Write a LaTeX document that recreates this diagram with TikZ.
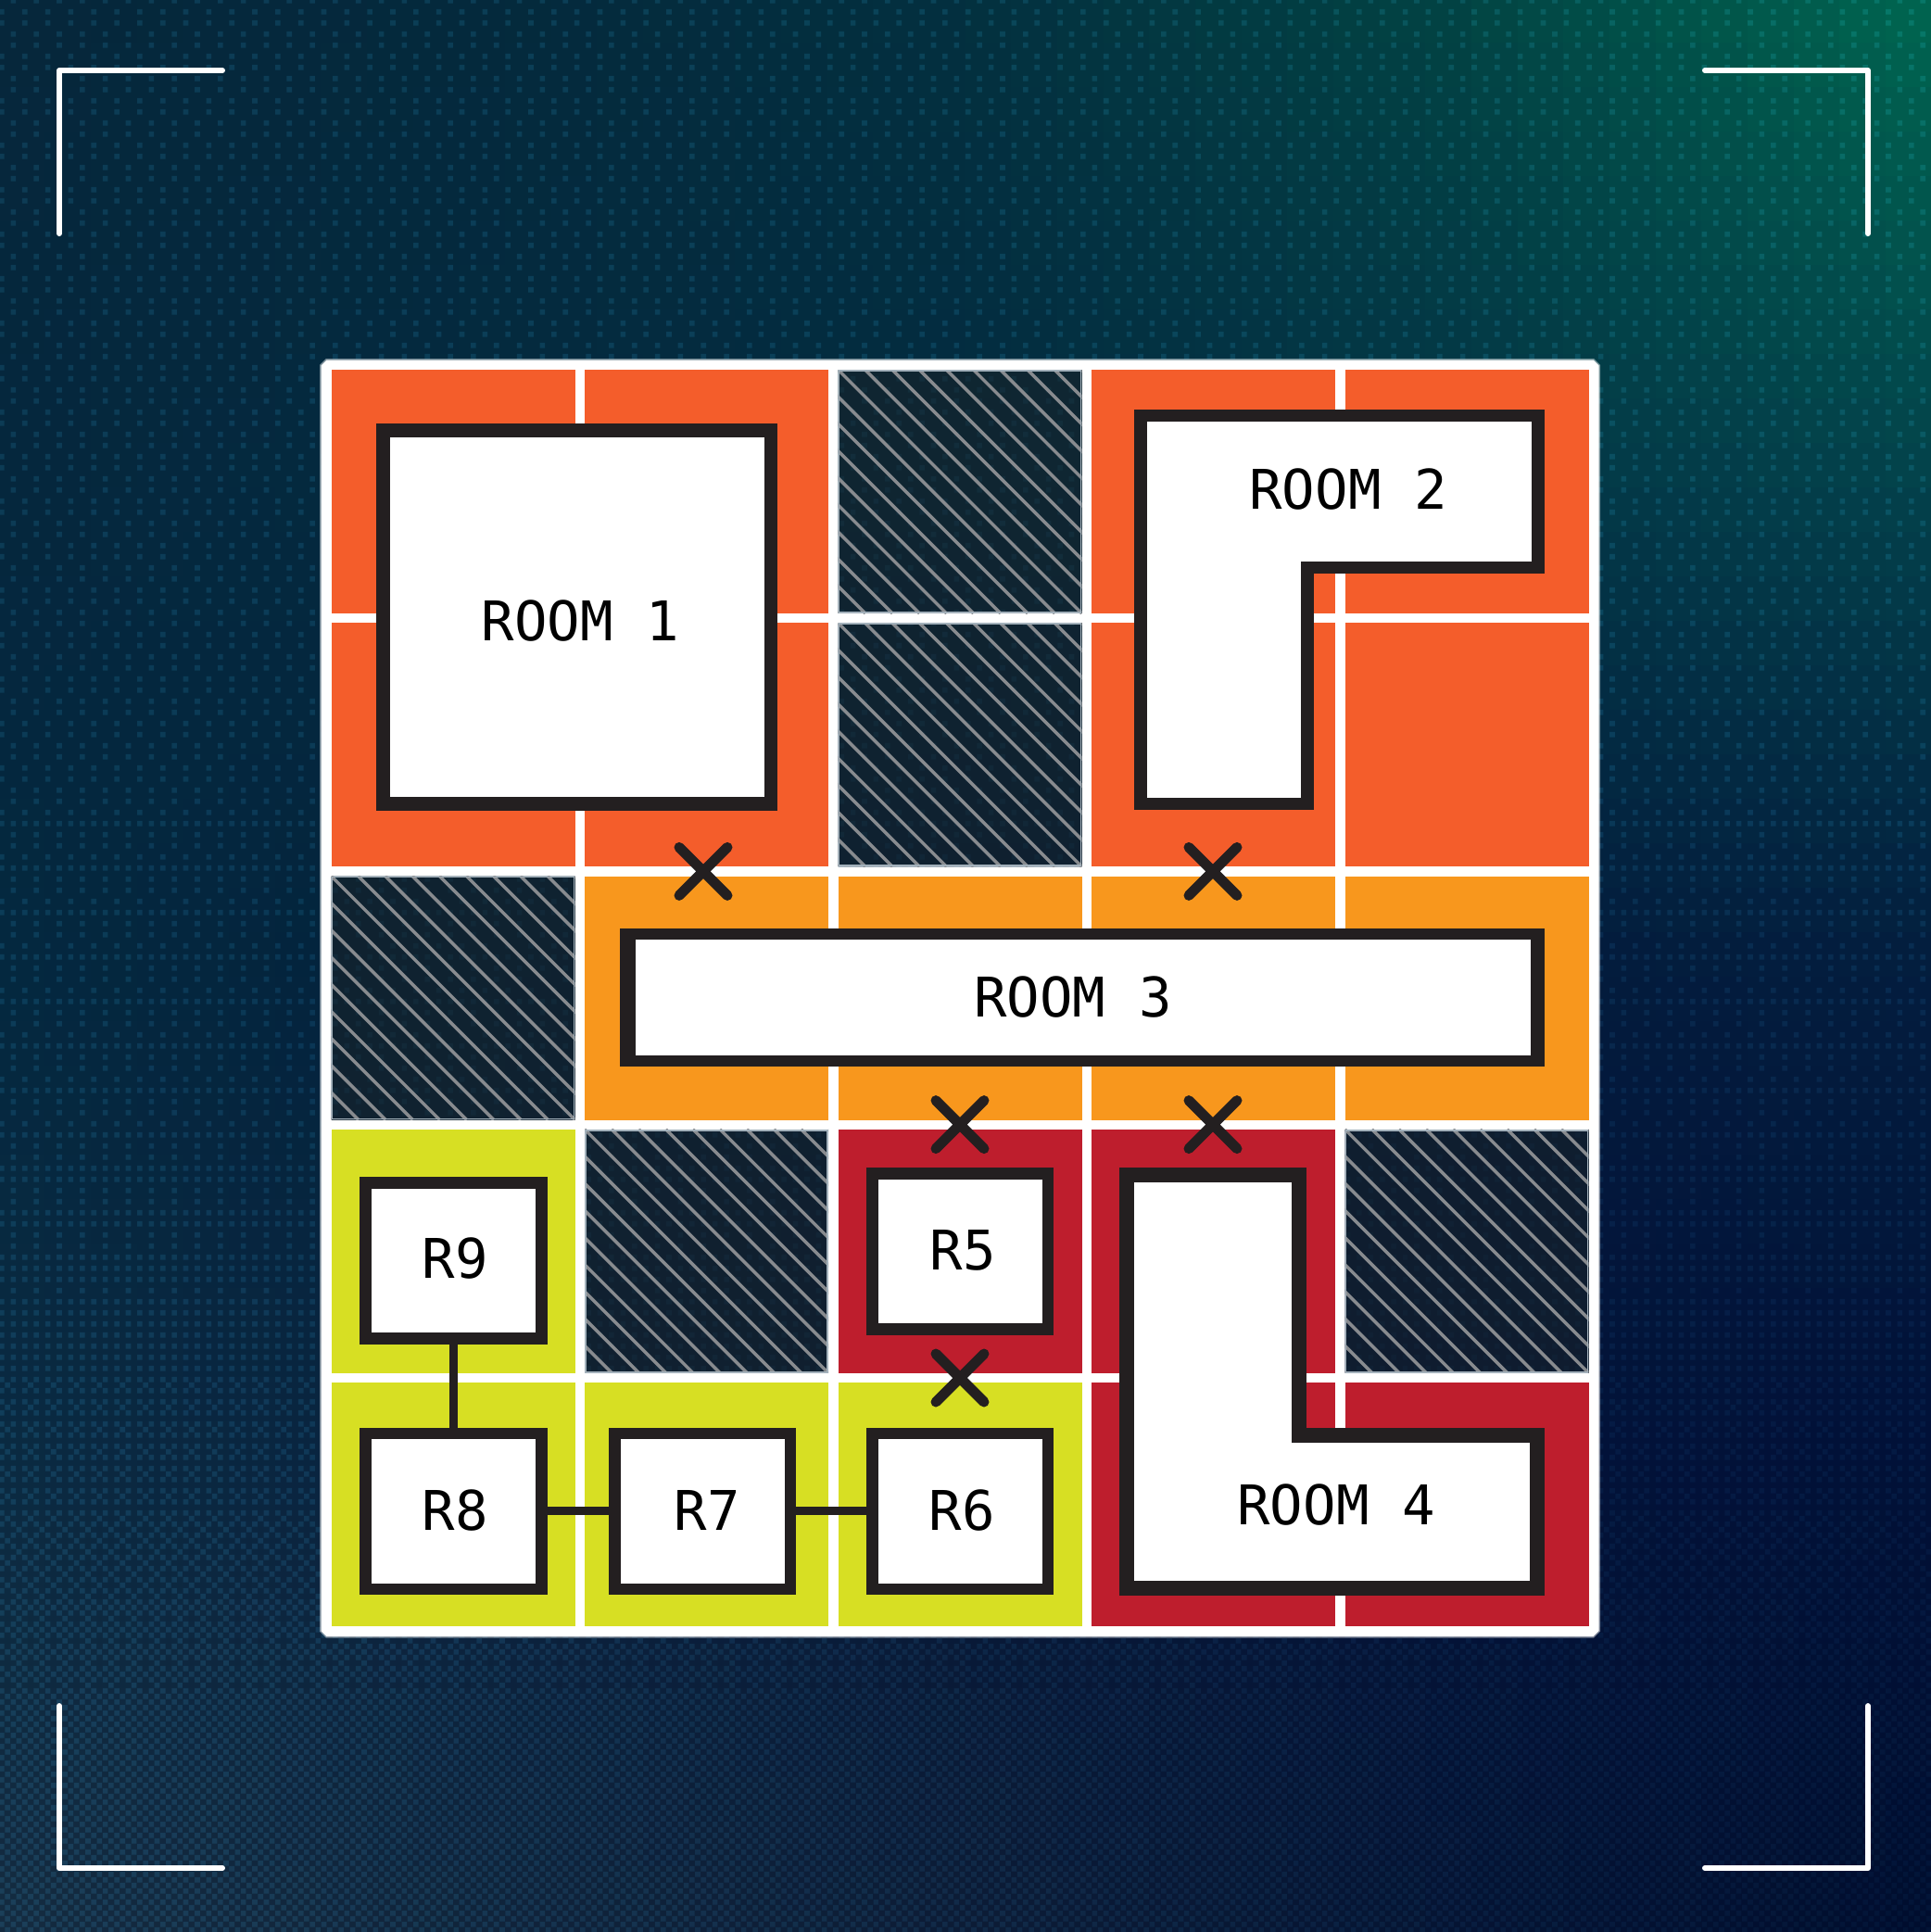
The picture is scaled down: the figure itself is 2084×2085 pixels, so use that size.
\documentclass[tikz,border=0pt]{standalone}
\usepackage{fontspec}
\newfontfamily\lblfont{DejaVu Sans Mono}
\definecolor{rorange}{HTML}{F45D2B}
\definecolor{ramber}{HTML}{F8971D}
\definecolor{rcrimson}{HTML}{BE1E2D}
\definecolor{rlime}{HTML}{D7DF23}
\definecolor{rdark}{HTML}{231F20}
\definecolor{hline}{HTML}{888B8F}
\definecolor{hedge}{HTML}{A3B1BB}
\definecolor{hfill}{HTML}{172229}
% background control grid (5x5), hex RGB
\def\cg#1#2#3#4#5{%
 \expandafter\def\csname cR#1#2\endcsname{"#3}%
 \expandafter\def\csname cG#1#2\endcsname{"#4}%
 \expandafter\def\csname cB#1#2\endcsname{"#5}}
\cg00{06}{27}{3B}\cg10{04}{29}{3C}\cg20{03}{30}{3F}\cg30{02}{43}{43}\cg40{00}{66}{50}
\cg01{05}{27}{3D}\cg11{04}{2A}{3F}\cg21{03}{2B}{40}\cg31{03}{35}{46}\cg41{03}{42}{4B}
\cg02{04}{28}{3F}\cg12{03}{22}{3C}\cg22{02}{1B}{3A}\cg32{03}{1B}{3C}\cg42{03}{1D}{3E}
\cg03{0A}{2A}{41}\cg13{09}{22}{3F}\cg23{06}{18}{38}\cg33{03}{12}{39}\cg43{01}{11}{38}
\cg04{14}{2B}{40}\cg14{10}{24}{3B}\cg24{0C}{1C}{36}\cg34{05}{14}{33}\cg44{00}{0D}{2E}
\def\chan#1{\numexpr(\csname c#1\ia\ja\endcsname*\wA+\csname c#1\ib\ja\endcsname*\wB+\csname c#1\ia\jb\endcsname*\wC+\csname c#1\ib\jb\endcsname*\wD)/1000000\relax}
\def\D#1#2{\pgfpathrectangle{\pgfqpoint{\dimexpr\numexpr(\tx+30+621*#1)*32768/100\relax sp\relax}{\dimexpr-\numexpr(\ty+20+600*#2)*32768/100\relax sp\relax}}{\pgfqpoint{2.8pt}{-2.8pt}}}
\def\dotsA{\D02\D42\D04\D44\D26\D66\D20\D60}
\def\dotsB{\D24\D64}
\def\dotsC{\D22\D62}
\def\dotsD{\D06\D46}
\def\dotsE{\D00\D40}
\def\dotsF{\D11\D55\D51\D15}
\def\dotsG{\D33\D77\D73\D37}
\def\dotsH{\D31\D75\D71\D35}
\def\dotsI{\D13\D57\D53\D17}
\newcommand\bgtile[2]{%
 \edef\tx{\the\numexpr-120+4966*#1\relax}%
 \edef\ty{\the\numexpr-230+4800*#2\relax}%
 \edef\px{\the\numexpr(\tx+2483)/100\relax}%
 \edef\py{\the\numexpr(\ty+2400)/100\relax}%
 \ifnum\px<0 \def\px{0}\fi \ifnum\px>2083 \def\px{2083}\fi
 \ifnum\py<0 \def\py{0}\fi \ifnum\py>2083 \def\py{2083}\fi
 \edef\ia{\the\numexpr(\px-260)/521\relax}\edef\ib{\the\numexpr\ia+1\relax}%
 \edef\ja{\the\numexpr(\py-260)/521\relax}\edef\jb{\the\numexpr\ja+1\relax}%
 \edef\fx{\the\numexpr(\px-\ia*521)*1000/521\relax}%
 \edef\fy{\the\numexpr(\py-\ja*521)*1000/521\relax}%
 \edef\wA{\the\numexpr(1000-\fx)*(1000-\fy)\relax}%
 \edef\wB{\the\numexpr\fx*(1000-\fy)\relax}%
 \edef\wC{\the\numexpr(1000-\fx)*\fy\relax}%
 \edef\wD{\the\numexpr\fx*\fy\relax}%
 \edef\bgr{\the\chan{R}}\edef\bgg{\the\chan{G}}\edef\bgb{\the\chan{B}}%
 \edef\ff{\the\numexpr\bgg*25\relax}%
 \ifnum\ff>1000 \def\ff{1000}\fi \ifnum\ff<300 \def\ff{300}\fi
 \definecolor{tbg}{RGB}{\bgr,\bgg,\bgb}%
 \definecolor{tdot}{RGB}{\the\numexpr\bgr+7*\ff/1000\relax,\the\numexpr\bgg+20*\ff/1000\relax,\the\numexpr\bgb+25*\ff/1000\relax}%
 \begin{pgfscope}%
 \pgfsetfillcolor{tbg}%
 \pgfpathrectangle{\pgfqpoint{\dimexpr\numexpr\tx*32768/100\relax sp\relax}{\dimexpr-\numexpr\ty*32768/100\relax sp\relax}}{\pgfqpoint{25.5pt}{-24.5pt}}%
 \pgfusepath{fill}%
 \pgfsetfillcolor{tdot}%
 \dotsA
 \ifnum\py>850 \dotsB\fi
 \ifnum\py>1250 \dotsC\fi
 \ifnum\py>1330 \dotsD\fi
 \ifnum\py>1420 \dotsE\fi
 \ifnum\py>1500 \dotsF\fi
 \ifnum\py>1620 \dotsG\fi
 \ifnum\py>1720 \dotsH\fi
 \ifnum\py>1820 \dotsI\fi
 \pgfusepath{fill}%
 \end{pgfscope}}
\newcommand\hatchcell[2]{%
 \fill[hatchfill] (#1,#2) rectangle ++(263,263);
 \begin{scope}
 \clip (#1,#2) rectangle ++(263,263);
 \foreach \k in {-9,...,9}{\draw[hatchstroke] ({#1+\k*29.2},#2) -- ++(263,263);}
 \end{scope}
 \draw[hatchedge] ({#1+1},{#2+1}) rectangle ++(261,261);}
\tikzset{
 x=0.5pt,y=-0.5pt,
 bracket/.style={draw=white,line width=3pt,line cap=round,line join=round},
 hatchfill/.style={fill=hfill,fill opacity=.62},
 hatchstroke/.style={draw=hline,line width=1.75pt},
 hatchedge/.style={draw=hedge,line width=.9pt},
 roombox/.style={draw=rdark,fill=white,inner sep=0pt,outer sep=0pt,rectangle},
 smallbox/.style={roombox,line width=6.3pt,minimum width=94.85pt,minimum height=84pt},
 roomshape/.style={draw=rdark,fill=white,line join=miter},
 conn/.style={draw=rdark,line width=4.35pt},
 xmark/.style={draw=rdark,line width=5.5pt,line cap=round},
 lbl/.style={inner sep=0pt,outer sep=0pt,anchor=base,text=black,font=\lblfont\fontsize{29.5pt}{32pt}\selectfont},
}
\begin{document}
\begin{tikzpicture}
\useasboundingbox (0,0) rectangle (2084,2085);
% dithered background
\begin{scope}
\clip (0,0) rectangle (2084,2085);
\foreach \cx in {0,...,42}{\foreach \cy in {0,...,44}{\bgtile{\cx}{\cy}}}
\end{scope}
% corner brackets
\draw[bracket] (240,76) -- (64,76) -- (64,252);
\draw[bracket] (1840,76) -- (2016,76) -- (2016,252);
\draw[bracket] (64,1841) -- (64,2016) -- (240,2016);
\draw[bracket] (2016,1841) -- (2016,2016) -- (1840,2016);
% panel with holes for the hatched cells
\draw[draw=white,draw opacity=.45,line width=1.5pt,line join=miter]
 (352.5,388.5) -- (1719.5,388.5) -- (1725.5,394.5) -- (1725.5,1760) -- (1719.5,1766) -- (352.5,1766) -- (346.5,1760) -- (346.5,394.5) -- cycle;
\fill[white,even odd rule]
 (352.5,388.5) -- (1719.5,388.5) -- (1725.5,394.5) -- (1725.5,1760) -- (1719.5,1766) -- (352.5,1766) -- (346.5,1760) -- (346.5,394.5) -- cycle
 (904.5,399) rectangle ++(263,263)
 (904.5,672.25) rectangle ++(263,263)
 (357.5,945.5) rectangle ++(263,263)
 (631,1218.75) rectangle ++(263,263)
 (1451.5,1218.75) rectangle ++(263,263);
% coloured cells
\foreach \x/\y/\c in {
 357.5/399/rorange,631/399/rorange,1178/399/rorange,1451.5/399/rorange,
 357.5/672.25/rorange,631/672.25/rorange,1178/672.25/rorange,1451.5/672.25/rorange,
 631/945.5/ramber,904.5/945.5/ramber,1178/945.5/ramber,1451.5/945.5/ramber,
 357.5/1218.75/rlime,904.5/1218.75/rcrimson,1178/1218.75/rcrimson,
 357.5/1492/rlime,631/1492/rlime,904.5/1492/rlime,1178/1492/rcrimson,1451.5/1492/rcrimson}
 {\fill[\c] (\x,\y) rectangle ++(263,263);}
\hatchcell{904.5}{399}
\hatchcell{904.5}{672.25}
\hatchcell{357.5}{945.5}
\hatchcell{631}{1218.75}
\hatchcell{1451.5}{1218.75}
% rooms
\node[roombox,line width=7.3pt,minimum width=209.25pt,minimum height=201.5pt] (room1) at (622.75,666) {};
\draw[roomshape,line width=6.65pt] (1231,448.3) -- (1660,448.3) -- (1660,612.3) -- (1411,612.3) -- (1411,867.3) -- (1231,867.3) -- cycle;
\node[fill=rdark,inner sep=0pt,outer sep=0pt,minimum width=499pt,minimum height=74.5pt] (room3) at (1168,1076.5) {};
\node[fill=white,inner sep=0pt,outer sep=0pt,minimum width=483pt,minimum height=62.2pt] (room3in) at (1168.5,1076.5) {};
\draw[roomshape,line width=8pt] (1216,1268) -- (1402,1268) -- (1402,1549) -- (1659,1549) -- (1659,1713.5) -- (1216,1713.5) -- cycle;
% small rooms
\node[smallbox] (r9) at (489.6,1360.5) {};
\node[smallbox] (r8) at (489.6,1630.8) {};
\node[smallbox] (r7) at (758.3,1630.8) {};
\node[smallbox] (r6) at (1036.25,1630.8) {};
\node[smallbox] (r5) at (1036.25,1350.25) {};
% connectors
\draw[conn] (r9.south) -- (r8.north);
\draw[conn] (r8.east) -- (r7.west);
\draw[conn] (r7.east) -- (r6.west);
% blocked doors
\foreach \x/\y in {759/940.4,1309/940.4,1036/1213.6,1309/1213.6,1036/1487}
 {\draw[xmark,shift={(\x,\y)}] (-26,-26) -- (26,26) (-26,26) -- (26,-26);}
% labels
\node[lbl] (t1) at (626.5,691) {ROOM 1};
\node[lbl] (t2) at (1455,549) {ROOM 2};
\node[lbl] (t3) at (1158,1097) {ROOM 3};
\node[lbl] (t4) at (1442,1645) {ROOM 4};
\node[lbl] (t5) at (1039.5,1370) {R5};
\node[lbl] (t6) at (1038,1651) {R6};
\node[lbl] (t7) at (763.5,1651) {R7};
\node[lbl] (t8) at (491.5,1651) {R8};
\node[lbl] (t9) at (491,1379) {R9};
\end{tikzpicture}
\end{document}
